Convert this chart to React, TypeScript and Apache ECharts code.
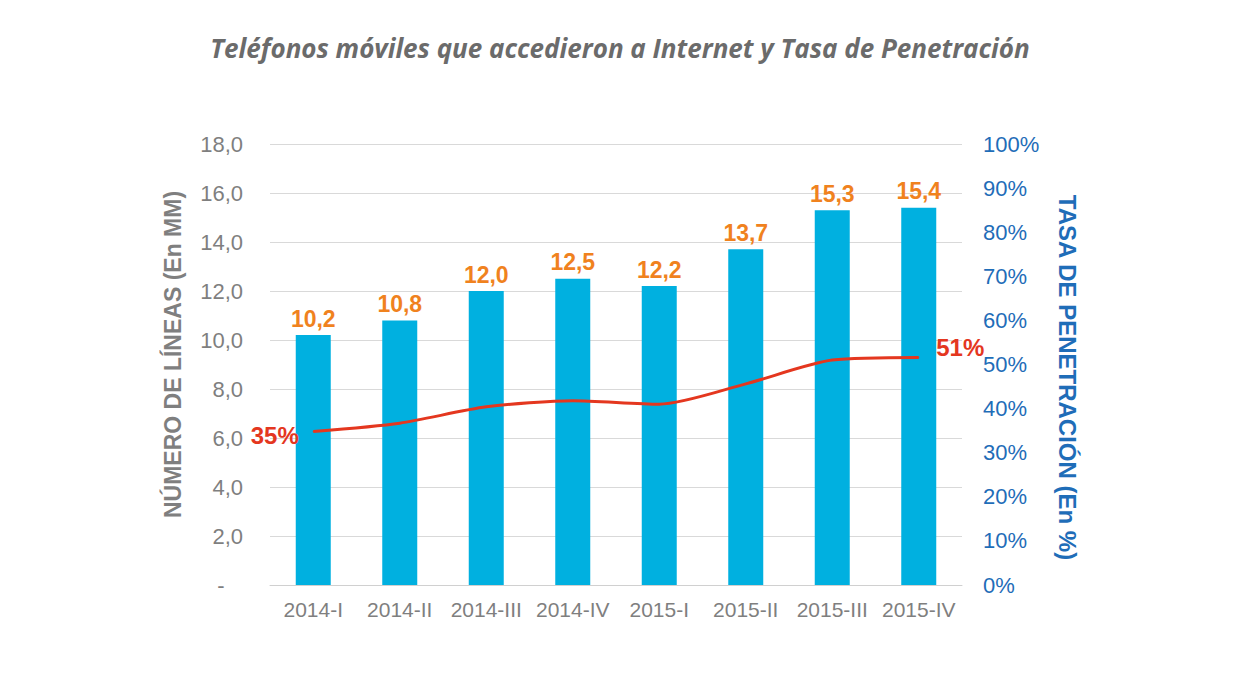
import React, { useEffect, useRef } from "react";
import * as echarts from "echarts";

const categories = ["2014-I", "2014-II", "2014-III", "2014-IV", "2015-I", "2015-II", "2015-III", "2015-IV"];
const lineas = [10.2, 10.8, 12.0, 12.5, 12.2, 13.7, 15.3, 15.4];
const tasa = [34.8, 36.7, 40.4, 41.8, 41.0, 45.6, 51.0, 51.6];
const tasaLabels = ["35%", "", "", "", "", "", "", "51%"];

const fmt = (v: number) => v.toFixed(1).replace(".", ",");

export default function App() {
  const ref = useRef<HTMLDivElement>(null);
  useEffect(() => {
    if (!ref.current) return;
    const chart = echarts.init(ref.current, undefined, { renderer: "svg" });
    const font = "Liberation Sans, Arial, sans-serif";
    chart.setOption({
      animation: false,
      backgroundColor: "#ffffff",
      title: {
        text: "Teléfonos móviles que accedieron a Internet y Tasa de Penetración",
        left: "center",
        top: 30,
        textStyle: {
          fontFamily: "Open Sans",
          fontStyle: "italic",
          fontWeight: "bold",
          fontSize: 26,
          color: "#6B6B6B",
        },
      },
      grid: { left: 270, right: 278, top: 144, bottom: 107 },
      xAxis: {
        type: "category",
        data: categories,
        axisTick: { show: false },
        axisLine: { lineStyle: { color: "#D0D0D0", width: 1 } },
        axisLabel: { color: "#7F7F7F", fontSize: 21, fontFamily: font, margin: 14, interval: 0 },
      },
      yAxis: [
        {
          type: "value",
          min: 0,
          max: 18,
          interval: 2,
          position: "left",
          name: "NÚMERO DE LÍNEAS (En MM)",
          nameLocation: "middle",
          nameGap: 86,
          nameRotate: 90,
          nameTextStyle: { color: "#7F7F7F", fontSize: 23, fontWeight: "bold", fontFamily: font, padding: [0, 0, 0, 20] },
          axisLine: { show: false },
          axisTick: { show: false },
          axisLabel: {
            color: "#7F7F7F",
            fontSize: 22,
            fontFamily: font,
            margin: 27,
            formatter: (v: number) => (v === 0 ? "-   " : fmt(v)),
          },
          splitLine: { lineStyle: { color: "#D9D9D9", width: 1 } },
        },
        {
          type: "value",
          min: 0,
          max: 100,
          interval: 10,
          position: "right",
          name: "TASA DE PENETRACIÓN (En %)",
          nameLocation: "middle",
          nameGap: 93,
          nameRotate: -90,
          nameTextStyle: { color: "#1F6DB8", fontSize: 24, fontWeight: "bold", fontFamily: font, padding: [0, 0, 0, 26] },
          axisLine: { show: false },
          axisTick: { show: false },
          axisLabel: { color: "#1F6DB8", fontSize: 22, fontFamily: font, margin: 21, formatter: "{value}%" },
          splitLine: { show: false },
        },
      ],
      series: [
        {
          type: "bar",
          data: lineas,
          yAxisIndex: 0,
          barWidth: 35,
          itemStyle: { color: "#00B0E0" },
          label: {
            show: true,
            position: "top",
            distance: 5,
            color: "#F0821E",
            fontSize: 23,
            fontWeight: "bold",
            fontFamily: font,
            formatter: (p: any) => fmt(p.value),
          },
        },
        {
          type: "line",
          data: tasa.map((v, i) => ({
            value: v,
            label: {
              show: tasaLabels[i] !== "",
              position: i === 0 ? "left" : "right",
              distance: i === 0 ? 14 : 17,
              offset: i === 0 ? [0, 4] : [0, -10],
              formatter: tasaLabels[i],
            },
          })),
          yAxisIndex: 1,
          smooth: 0.25,
          symbol: "circle",
          symbolSize: 1,
          showSymbol: true,
          itemStyle: { color: "#E4371F" },
          lineStyle: { color: "#E4371F", width: 3 },
          label: { color: "#E4371F", fontSize: 24, fontWeight: "bold", fontFamily: font },
          z: 5,
        },
      ],
    });
    return () => chart.dispose();
  }, []);
  return <div ref={ref} style={{ position: "fixed", left: 0, top: 0, width: 1240, height: 692 }} />;
}
